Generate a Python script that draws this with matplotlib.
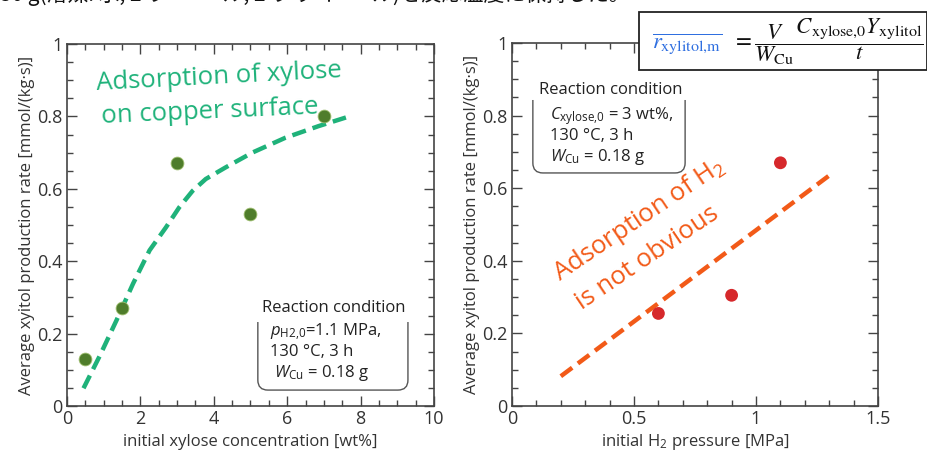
import numpy as np
import matplotlib
matplotlib.use("Agg")
import matplotlib.pyplot as plt
from matplotlib.path import Path
from matplotlib.patches import PathPatch, Rectangle
from matplotlib.ticker import MultipleLocator

plt.rcParams['font.family'] = ['Open Sans', 'Noto Sans CJK JP', 'DejaVu Sans']
plt.rcParams['mathtext.fontset'] = 'custom'
plt.rcParams['mathtext.rm'] = 'Open Sans'
plt.rcParams['mathtext.it'] = 'Open Sans:italic'
plt.rcParams['mathtext.bf'] = 'Open Sans:bold'

# === Data: left panel (xylose concentration) ===
xylose_conc = [0.5, 1.5, 3.0, 5.0, 7.0]
rate_xylose = [0.13, 0.27, 0.67, 0.53, 0.80]
# guide curve (hand-drawn trend)
guide_x = [0.45, 0.9, 1.35, 1.8, 2.25, 2.7, 3.06, 3.42, 3.78, 4.32, 5.05, 5.95, 6.85, 7.6]
guide_y = [0.049, 0.14, 0.237, 0.338, 0.43, 0.494, 0.549, 0.594, 0.627, 0.659, 0.70, 0.741, 0.773, 0.797]

# === Data: right panel (H2 pressure) ===
h2_pressure = [0.6, 0.9, 1.1]
rate_h2 = [0.255, 0.305, 0.67]
trend_x = [0.2, 1.32]
trend_y = [0.082, 0.645]

GREEN_PT = '#4f7d2b'
GREEN_LINE = '#1fb27a'
RED_PT = '#d6282b'
ORANGE = '#f25a18'
DARK = '#333333'

fig = plt.figure(figsize=(9.28, 4.5), dpi=100)
W, H = 928, 450


def px_axes(l, t, r, b):
    return [l / W, (H - b) / H, (r - l) / W, (b - t) / H]


ax1 = fig.add_axes(px_axes(67, 44, 434, 406))
ax2 = fig.add_axes(px_axes(512, 43, 878, 406))


def style(ax, xmaj, xmin, xmax):
    ax.set_xlim(0, xmax)
    ax.set_ylim(0, 1)
    ax.xaxis.set_major_locator(MultipleLocator(xmaj))
    ax.xaxis.set_minor_locator(MultipleLocator(xmin))
    ax.yaxis.set_major_locator(MultipleLocator(0.2))
    ax.yaxis.set_minor_locator(MultipleLocator(0.05))
    ax.tick_params(which='both', direction='in', top=True, right=True,
                   colors='#444444', labelcolor=DARK, labelsize=13, pad=3)
    ax.tick_params(which='major', length=7, width=1)
    ax.tick_params(which='minor', length=4, width=1)
    for s in ax.spines.values():
        s.set_color('#444444')
        s.set_linewidth(1.2)
    ax.set_yticks(np.arange(0, 1.01, 0.2))
    ax.set_yticklabels(['0', '0.2', '0.4', '0.6', '0.8', '1'])
    ax.set_ylabel('Average xyitol production rate [mmol/(kg·s)]', fontsize=12,
                  color=DARK, labelpad=2)


style(ax1, 2, 0.5, 10)
style(ax2, 0.5, 0.1, 1.5)
ax1.set_xticks([0, 2, 4, 6, 8, 10])
ax1.set_xticklabels(['0', '2', '4', '6', '8', '10'])
ax2.set_xticks([0, 0.5, 1, 1.5])
ax2.set_xticklabels(['0', '0.5', '1', '1.5'])
ax1.set_xlabel('initial xylose concentration [wt%]', fontsize=12, color=DARK, labelpad=4)
ax2.set_xlabel('initial H$_2$ pressure [MPa]', fontsize=12, color=DARK, labelpad=3)

# left panel marks
ax1.plot(guide_x, guide_y, color=GREEN_LINE, lw=3.2, dashes=(3.2, 1.6), zorder=2)
ax1.scatter(xylose_conc, rate_xylose, s=85, color=GREEN_PT, edgecolors='#9fbf70',
            linewidths=0.6, zorder=3)
ax1.text(0.082, 0.873, 'Adsorption of xylose', transform=ax1.transAxes,
         color=GREEN_LINE, fontsize=18.5, ha='left', va='baseline', rotation=3,
         rotation_mode='anchor')
ax1.text(0.095, 0.782, 'on copper surface', transform=ax1.transAxes,
         color=GREEN_LINE, fontsize=18.5, ha='left', va='baseline', rotation=2.5,
         rotation_mode='anchor')

# right panel marks
ax2.plot(trend_x, trend_y, color=ORANGE, lw=3.2, dashes=(3.2, 1.6), zorder=2)
ax2.scatter(h2_pressure, rate_h2, s=85, color=RED_PT, edgecolors='none', zorder=3)
ax2.text(0.131, 0.343, 'Adsorption of H$_2$', transform=ax2.transAxes,
         color=ORANGE, fontsize=18.5, ha='left', va='baseline', rotation=34,
         rotation_mode='anchor')
ax2.text(0.191, 0.265, 'is not obvious', transform=ax2.transAxes,
         color=ORANGE, fontsize=18.5, ha='left', va='baseline', rotation=34,
         rotation_mode='anchor')


def bracket(ax, x0, x1, y0, y1, r_px=10):
    bb = ax.get_position()
    rx = r_px / (bb.width * W)
    ry = r_px / (bb.height * H)
    verts = [(x0, y1), (x0, y0 + ry), (x0, y0), (x0 + rx, y0),
             (x1 - rx, y0), (x1, y0), (x1, y0 + ry), (x1, y1)]
    codes = [Path.MOVETO, Path.LINETO, Path.CURVE3, Path.CURVE3,
             Path.LINETO, Path.CURVE3, Path.CURVE3, Path.LINETO]
    ax.add_patch(PathPatch(Path(verts, codes), transform=ax.transAxes,
                           fill=False, edgecolor='#555555', lw=1.0, clip_on=False))


# reaction condition, left
bracket(ax1, 0.520, 0.929, 0.044, 0.232)
ax1.text(0.728, 0.271, 'Reaction condition', transform=ax1.transAxes, fontsize=12,
         ha='center', va='center', color='#222222')
ax1.text(0.553, 0.204, '$p_{\\mathrm{H2{,}0}}$=1.1 MPa,', transform=ax1.transAxes,
         fontsize=12, ha='left', va='center', color='#222222')
ax1.text(0.553, 0.150, '130 °C, 3 h', transform=ax1.transAxes,
         fontsize=12, ha='left', va='center', color='#222222')
ax1.text(0.565, 0.092, '$W_{\\mathrm{Cu}}$ = 0.18 g', transform=ax1.transAxes,
         fontsize=12, ha='left', va='center', color='#222222')

# reaction condition, right
bracket(ax2, 0.057, 0.473, 0.642, 0.843)
ax2.text(0.271, 0.871, 'Reaction condition', transform=ax2.transAxes, fontsize=12,
         ha='center', va='center', color='#222222')
ax2.text(0.104, 0.800, '$C_{\\mathrm{xylose{,}0}}$ = 3 wt%,', transform=ax2.transAxes,
         fontsize=12, ha='left', va='center', color='#222222')
ax2.text(0.104, 0.744, '130 °C, 3 h', transform=ax2.transAxes,
         fontsize=12, ha='left', va='center', color='#222222')
ax2.text(0.104, 0.686, '$W_{\\mathrm{Cu}}$ = 0.18 g', transform=ax2.transAxes,
         fontsize=12, ha='left', va='center', color='#222222')

# formula box on top
fig.patches.append(Rectangle((639 / W, (H - 70) / H), 288 / W, 58 / H,
                             transform=fig.transFigure, facecolor='white',
                             edgecolor='#222222', lw=1.3, zorder=10))
fig.text(652 / W, (H - 44) / H, '$\\overline{r_{\\mathrm{xylitol{,}m}}}$', color='#2f6fe0',
         fontsize=16.5, ha='left', va='center', math_fontfamily='stix', zorder=11)
fig.text(732 / W, (H - 42) / H,
         '$=\\dfrac{V}{W_{\\mathrm{Cu}}}\\dfrac{C_{\\mathrm{xylose{,}0}}Y_{\\mathrm{xylitol}}}{t}$',
         color='#111111', fontsize=16.5, ha='left', va='center', math_fontfamily='stix',
         zorder=11)

# cut-off slide text at the very top
fig.text(0.0, 1 - 1 / H, '30 g(溶媒: 水, 2 ラ ー ー ル, 2 ラ ク ト ー ル)を反応温度に保持した。',
         fontsize=15, ha='left', va='baseline', color='#111111',
         family=['Noto Sans CJK JP', 'DejaVu Sans'])

fig.savefig('out.png', dpi=100)
